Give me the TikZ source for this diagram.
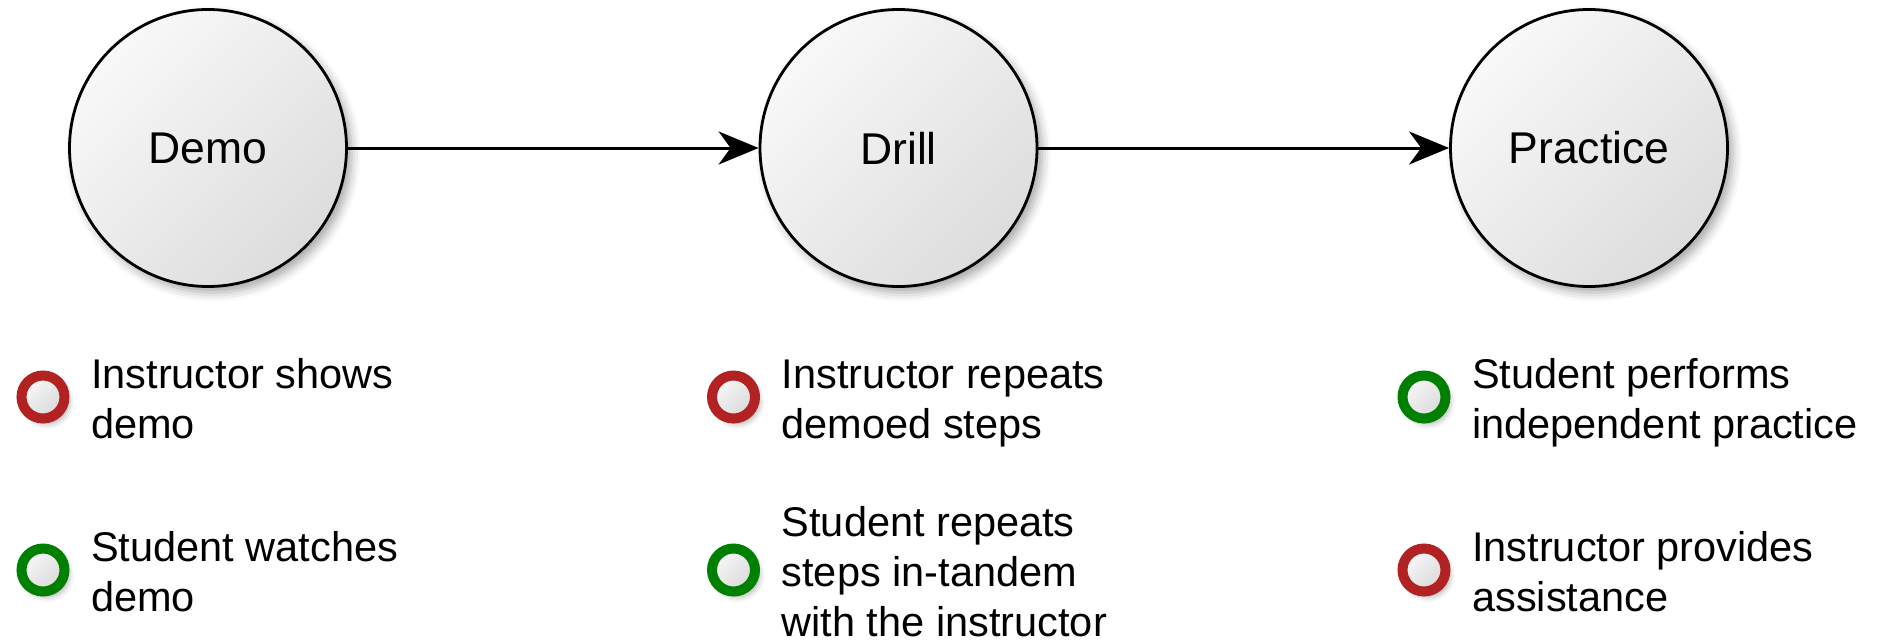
\documentclass[tikz,border=0pt]{standalone}
\usepackage{fontspec}
\setmainfont{Liberation Sans}
\usetikzlibrary{arrows.meta,shadows.blur}
\definecolor{ringred}{RGB}{178,34,34}
\definecolor{ringgreen}{RGB}{0,128,0}
\begin{document}
\begin{tikzpicture}[x=1pt,y=1pt,
  phase/.style={circle, draw=black, line width=2.8pt, minimum size=277pt, inner sep=0pt,
    top color=gray!5, bottom color=gray!27, shading angle=45,
    blur shadow={shadow xshift=5pt, shadow yshift=-6pt, shadow blur radius=9pt, shadow opacity=35},
    font=\fontsize{44.5}{53}\selectfont},
  ring/.style={circle, line width=10pt, minimum size=43pt, inner sep=0pt,
    top color=gray!5, bottom color=gray!30, shading angle=45,
    blur shadow={shadow xshift=4pt, shadow yshift=-5pt, shadow blur radius=6pt, shadow opacity=35}},
  redring/.style={ring, draw=ringred},
  greenring/.style={ring, draw=ringgreen},
  % anchored on the baseline of the last line
  item/.style={anchor=base west, align=left, inner sep=0pt, font=\fontsize{41.5}{50}\selectfont},
  flow/.style={-{Stealth[length=40pt,width=33pt,inset=12pt]}, line width=3pt}
]
\useasboundingbox (0,0) rectangle (1878,-642);

% the three phases
\node[phase] (demo)     at (208,-148)   {Demo};
\node[phase] (drill)    at (898.5,-148) {Drill};
\node[phase] (practice) at (1589,-148)  {Practice};

\draw[flow] (demo) -- (drill);
\draw[flow] (drill) -- (practice);

% who does what in each phase
\node[redring]   (b11) at (43,-397) {};
\node[item]      (t11) at (91,-438) {Instructor shows\\demo};
\node[greenring] (b12) at (43,-570) {};
\node[item]      (t12) at (91,-611) {Student watches\\demo};

\node[redring]   (b21) at (733.5,-397) {};
\node[item]      (t21) at (781.5,-438) {Instructor repeats\\demoed steps};
\node[greenring] (b22) at (733.5,-570) {};
\node[item]      (t22) at (781.5,-636) {Student repeats\\steps in-tandem\\with the instructor};

\node[greenring] (b31) at (1424,-397) {};
\node[item]      (t31) at (1472,-438) {Student performs\\independent practice};
\node[redring]   (b32) at (1424,-570) {};
\node[item]      (t32) at (1472,-611) {Instructor provides\\assistance};
\end{tikzpicture}
\end{document}
